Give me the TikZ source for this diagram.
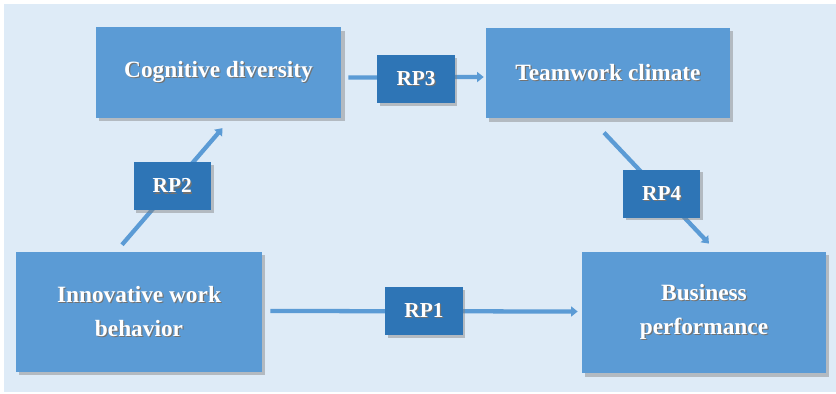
\documentclass[tikz,border=0pt]{standalone}
\usepackage{fontspec}
\setmainfont{Liberation Serif}
\usetikzlibrary{arrows.meta,shadows}

\definecolor{bgblue}{HTML}{DEEBF7}
\definecolor{boxblue}{HTML}{5B9BD5}
\definecolor{rpblue}{HTML}{2E75B6}
\newcommand{\shtext}[1]{\makebox[0pt][l]{\kern0.9pt\raisebox{-0.9pt}{\textcolor{black!55}{#1}}}#1}

\begin{document}
\begin{tikzpicture}[x=0.75pt,y=-0.75pt,
  concept/.style={fill=boxblue,text=white,align=center,inner sep=0pt,
    font=\bfseries\fontsize{17.5}{25.5}\selectfont,
    drop shadow={opacity=0.45,shadow xshift=2.5pt,shadow yshift=-2.5pt}},
  rp/.style={fill=rpblue,text=white,inner sep=0pt,minimum width=58pt,minimum height=36pt,
    font=\bfseries\fontsize{16}{20}\selectfont,
    drop shadow={opacity=0.45,shadow xshift=2pt,shadow yshift=-2pt}},
  flow/.style={draw=boxblue,line width=3.2pt,-{Triangle[length=5pt,width=7.5pt]}}]
  \useasboundingbox (0,0) rectangle (836,393);
  \fill[bgblue] (4,4) rectangle (836,392);

  \node[concept,minimum width=184pt,minimum height=68pt] (cog) at (218.5,72.5) {\shtext{Cognitive diversity}};
  \node[concept,minimum width=183pt,minimum height=68pt] (team) at (608,73) {\shtext{Teamwork climate}};
  \node[concept,minimum width=184.5pt,minimum height=90pt] (inno) at (139,312) {\shtext{Innovative work}\\\shtext{behavior}};
  \node[concept,minimum width=183pt,minimum height=91pt] (bus) at (704,312.5) {\shtext{Business}\\\shtext{performance}};

  \draw[flow] ([shift={(8,-1)}]inno.east) -- node[rp] {\shtext{RP1}} ([shift={(-4,-1)}]bus.west);
  \draw[flow] ([shift={(-17,-7)}]inno.north) -- node[rp] {\shtext{RP2}} ([shift={(4,10)}]cog.south);
  \draw[flow] ([shift={(7,5)}]cog.east) -- node[rp,yshift=-1.5pt] {\shtext{RP3}} ([shift={(-2,4)}]team.west);
  \draw[flow] ([shift={(-4,14)}]team.south) -- node[rp,pos=0.55] {\shtext{RP4}} ([shift={(5,-8)}]bus.north);
\end{tikzpicture}
\end{document}
